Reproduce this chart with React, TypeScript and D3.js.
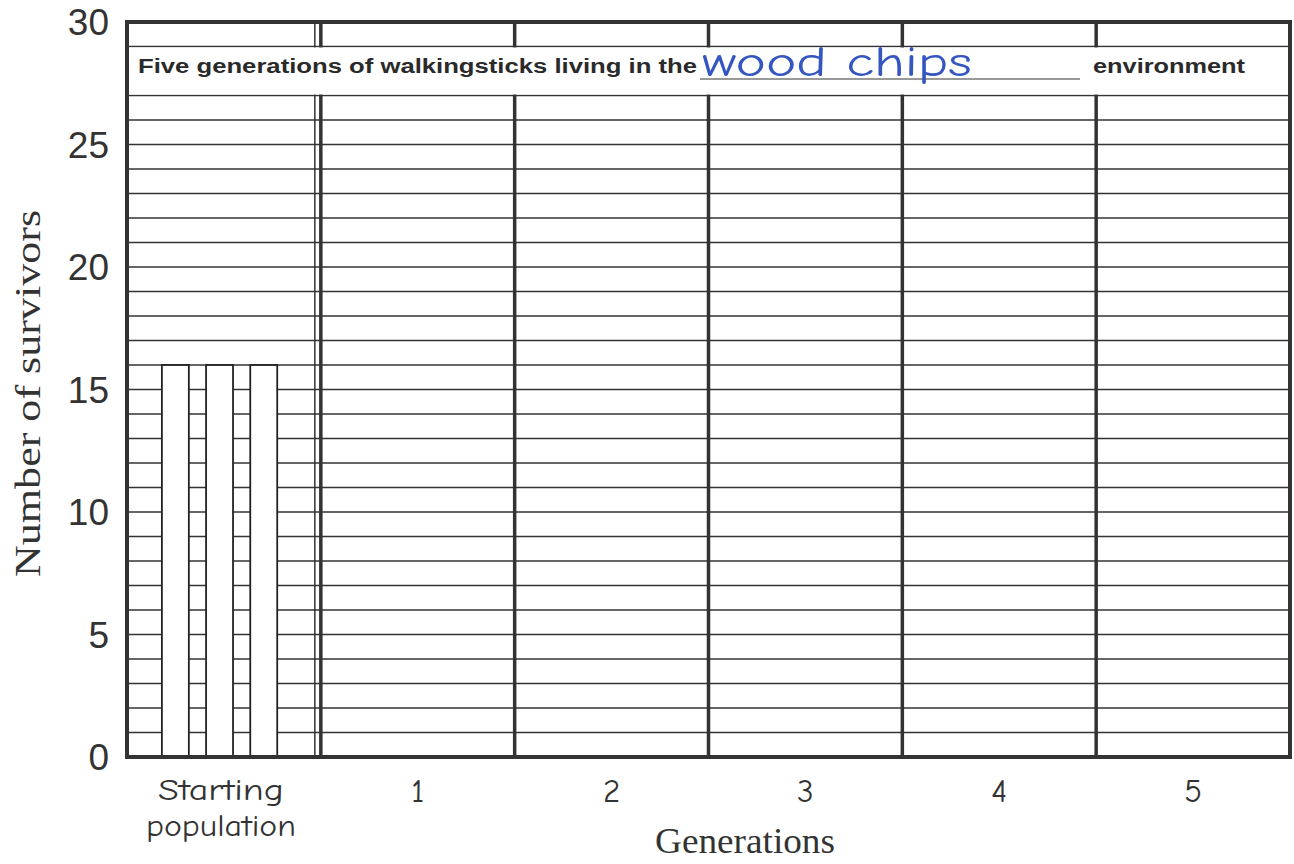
import React from 'react';
import { scaleLinear, scaleBand, range } from 'd3';

// worksheet columns
const categories = ['Starting population', '1', '2', '3', '4', '5'];
// three walkingstick colours, one bar each per column (only the start is filled in)
const seriesNames = ['a', 'b', 'c'];
const seriesA = [16, null, null, null, null, null];
const seriesB = [16, null, null, null, null, null];
const seriesC = [16, null, null, null, null, null];
const yTicks = [0, 5, 10, 15, 20, 25, 30];

const titleLeft = 'Five generations of walkingsticks living in the';
const titleFill = 'wood chips';
const titleRight = 'environment';

const W = 1294;
const H = 864;
const margin = { top: 22, right: 4, bottom: 107, left: 127 };

const ink = '#333';
const handFont = "'Comic Sans MS', 'Comic Neue', 'DejaVu Sans', sans-serif";

export default function App() {
  const x = scaleBand<string>()
    .domain(categories)
    .range([margin.left, W - margin.right])
    .padding(0);

  const y = scaleLinear()
    .domain([0, 30])
    .range([H - margin.bottom, margin.top]);

  const bw = x.bandwidth();
  const series = [seriesA, seriesB, seriesC];

  const gridVals = range(0, 31);

  return (
    <svg width={W} height={H} style={{ position: 'absolute', left: 0, top: 0, background: '#fff' }}>
      {/* horizontal rules, one per survivor */}
      {gridVals.map(v => (
        <line key={'h' + v} x1={margin.left} x2={W - margin.right} y1={y(v)} y2={y(v)}
          stroke={ink} strokeWidth={1.7} />
      ))}

      {/* column separators */}
      {categories.slice(1).map((c, i) => (
        <g key={'v' + c}>
          {i === 0 && (
            <line x1={x(c)! - 6} x2={x(c)! - 6} y1={y(30)} y2={y(0)} stroke={ink} strokeWidth={1.5} />
          )}
          <line x1={x(c)!} x2={x(c)!} y1={y(30)} y2={y(0)} stroke={ink} strokeWidth={3.5} />
        </g>
      ))}

      {/* title band */}
      <rect x={margin.left + 2} y={y(29) + 1} width={W - margin.right - margin.left - 4}
        height={y(27) - y(29) - 2} fill="#fff" />
      <text x={138} y={y(28) + 2} fontFamily="'Liberation Sans', Arial, sans-serif" fontWeight="bold"
        fontSize={20} fill="#2a2a2a" textLength={559} lengthAdjust="spacingAndGlyphs">{titleLeft}</text>
      <line x1={700} x2={1080} y1={y(28) + 8} y2={y(28) + 8} stroke="#777" strokeWidth={1.5} />
      <text x={702} y={y(28) + 5} fontFamily={handFont} fontSize={42}
        fill="#3556c0" textLength={270} lengthAdjust="spacingAndGlyphs">{titleFill}</text>
      <text x={1093} y={y(28) + 2} fontFamily="'Liberation Sans', Arial, sans-serif" fontWeight="bold"
        fontSize={20} fill="#2a2a2a" textLength={152} lengthAdjust="spacingAndGlyphs">{titleRight}</text>

      {/* bars */}
      {categories.map((c, ci) => {
        const x0 = x(c)!;
        const inner = scaleBand<string>()
          .domain(seriesNames)
          .range([x0 + 0.18 * bw, x0 + 0.775 * bw])
          .paddingInner(0.39);
        return series.map((s, si) => {
          const v = s[ci];
          if (v == null) return null;
          return (
            <rect key={c + si} x={inner(seriesNames[si])} y={y(v)} width={inner.bandwidth()}
              height={y(0) - y(v)} fill="#fff" stroke="#222" strokeWidth={1.8} />
          );
        });
      })}

      {/* outer border */}
      <rect x={margin.left} y={y(30)} width={W - margin.right - margin.left} height={y(0) - y(30)}
        fill="none" stroke={ink} strokeWidth={4} />

      {/* y tick labels */}
      {yTicks.map(t => (
        <text key={'yt' + t} x={109} y={y(t)} dy="0.36em" textAnchor="end"
          fontFamily="'Liberation Sans', Arial, sans-serif" fontSize={37} fill="#333">{t}</text>
      ))}

      {/* y axis title */}
      <text transform={`translate(40, ${(210 + 577) / 2}) rotate(-90)`} textAnchor="middle"
        fontFamily="'Liberation Serif', 'Times New Roman', serif" fontSize={36} fill="#333"
        textLength={367} lengthAdjust="spacingAndGlyphs">Number of survivors</text>

      {/* x tick labels */}
      {categories.map(c => {
        const isStart = c === 'Starting population';
        const cx = isStart ? 221 : x(c)! + bw / 2;
        if (isStart) {
          return (
            <g key={'xt' + c} fontFamily={handFont} fontSize={31} fill="#333" textAnchor="middle">
              <text x={cx} y={800} textLength={126} lengthAdjust="spacingAndGlyphs">Starting</text>
              <text x={cx} y={836} textLength={150} lengthAdjust="spacingAndGlyphs">population</text>
            </g>
          );
        }
        return (
          <text key={'xt' + c} x={cx} y={802} textAnchor="middle" fontFamily={handFont}
            fontSize={33} fill="#333">{c}</text>
        );
      })}

      {/* x axis title */}
      <text x={745} y={853} textAnchor="middle" fontFamily="'Liberation Serif', 'Times New Roman', serif"
        fontSize={35} fill="#333" textLength={180} lengthAdjust="spacingAndGlyphs">Generations</text>
    </svg>
  );
}
